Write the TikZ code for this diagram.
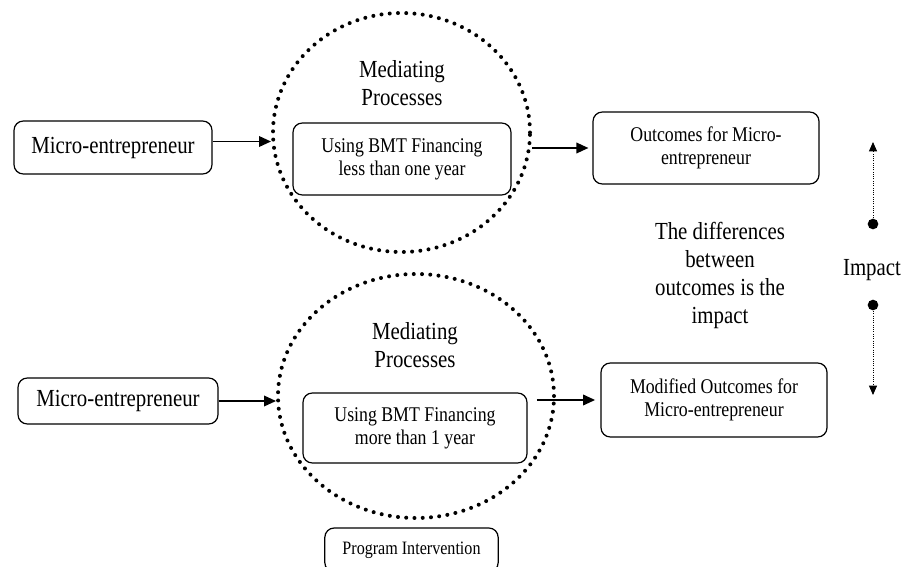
\documentclass[tikz,border=0pt]{standalone}
\usepackage{fontspec}
\setmainfont[FakeStretch=0.85]{Liberation Serif}
\usetikzlibrary{positioning,shapes.geometric,arrows.meta,calc}
\tikzset{
  roundbox/.style={ % rounded text box
    draw, rectangle, rounded corners=7pt, line width=0.9pt,
    align=center, inner sep=0pt, text=black
  },
  mediator/.style={ % dotted ellipse round the mediating processes
    draw, ellipse, inner sep=0pt, line width=3pt,
    dash pattern=on 0pt off 6.2pt, line cap=round
  },
  bigfont/.style={font=\fontsize{18.4}{21}\selectfont},
  midfont/.style={font=\fontsize{15.7}{17}\selectfont},
  smallfont/.style={font=\fontsize{14.2}{16}\selectfont},
  impactdot/.style={circle, fill=black, inner sep=0pt, minimum size=8pt}
}

\begin{document}
\begin{tikzpicture}[x=0.75pt, y=-0.75pt, >={Triangle[length=9pt,width=8pt]}, line width=1.1pt]
  \useasboundingbox (0,0) rectangle (907,567);

  % upper row: less than one year
  \node[roundbox,bigfont,minimum width=148.5pt,minimum height=39.75pt] (me1) at (113,147.5) {Micro-entrepreneur};
  \node[mediator,minimum width=192.75pt,minimum height=179.25pt] (circ1) at (401.5,132.5) {};
  \node[roundbox,midfont,minimum width=163.5pt,minimum height=54pt] (fin1) at (402,159) {Using BMT Financing\\less than one year};
  \node[bigfont,align=center,inner sep=0pt,above=12pt of fin1] (med1) {Mediating\\Processes};
  \node[roundbox,midfont,minimum width=169.5pt,minimum height=54pt] (out1) at (706,148) {Outcomes for Micro-\\entrepreneur};

  \coordinate (a1) at ([yshift=4.5pt]me1.east);
  \draw[->] (a1) -- (a1 -| circ1.west);
  \draw[->, shorten >=3pt] (circ1.east |- out1.west) -- (out1.west);

  % lower row: more than 1 year
  \node[roundbox,bigfont,minimum width=150pt,minimum height=34.5pt] (me2) at (118,401) {Micro-entrepreneur};
  \node[mediator,minimum width=207pt,minimum height=183pt] (circ2) at (416,396) {};
  \node[roundbox,midfont,minimum width=168pt,minimum height=52.5pt] (fin2) at (415,428) {Using BMT Financing\\more than 1 year};
  \node[bigfont,align=center,inner sep=0pt,above=18pt of fin2] (med2) {Mediating\\Processes};
  \node[roundbox,midfont,minimum width=169.5pt,minimum height=55.5pt] (out2) at (714,400) {Modified Outcomes for\\Micro-entrepreneur};
  \node[roundbox,smallfont,minimum width=130pt,minimum height=33pt] (prog) at (411.5,550) {Program Intervention};

  \draw[->] (me2.east) -- (me2.east -| circ2.west);
  \coordinate (a2) at ([xshift=7pt]fin2.east);
  \draw[->, shorten >=4pt] (a2 |- out2.west) -- (out2.west);

  % impact
  \node[bigfont,align=center] (diff) at (720,275) {The differences\\between\\outcomes is the\\impact};
  \node[bigfont] (impact) at (872,270) {Impact};
  \node[impactdot] (dtop) at (873,224) {};
  \node[impactdot] (dbot) at (873,305) {};
  \coordinate (tipup) at (873,142);
  \coordinate (tipdown) at (873,395);
  \draw[->, densely dotted, line width=0.7pt, >={Triangle[length=7pt,width=6pt]}] (dtop) -- (tipup);
  \draw[->, densely dotted, line width=0.7pt, >={Triangle[length=7pt,width=6pt]}] (dbot) -- (tipdown);
\end{tikzpicture}
\end{document}
